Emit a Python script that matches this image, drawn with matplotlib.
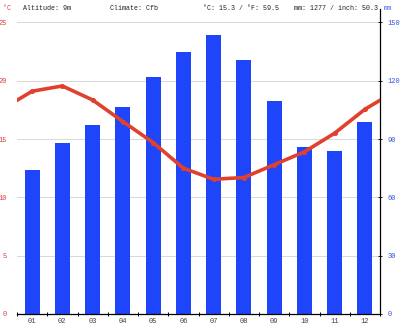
import matplotlib
matplotlib.use("Agg")
import matplotlib.pyplot as plt
import numpy as np

months = ["01", "02", "03", "04", "05", "06", "07", "08", "09", "10", "11", "12"]
precip_mm = [74.2, 87.9, 97.0, 106.7, 122.0, 134.6, 143.7, 130.9, 109.8, 85.9, 84.1, 98.9]
temp_c = [19.1, 19.55, 18.35, 16.5, 14.7, 12.5, 11.55, 11.7, 12.8, 13.9, 15.5, 17.55]
temp_ticks = [0, 5, 10, 15, 20, 25]
mm_ticks = [0, 30, 60, 90, 120, 150]
header = ["Altitude: 9m", "Climate: Cfb", "°C: 15.3 / °F: 59.5", "mm: 1277 / inch: 50.3"]

RED = "#e0412e"
BLUE = "#1f45fa"
LABEL_RED = "#e0404a"
LABEL_BLUE = "#3b55e0"
FONT = "Liberation Mono"
FS = 4.8

fig = plt.figure(figsize=(4.0, 3.25), dpi=100)
ax_t = fig.add_axes([0.0425, 0.034, 0.9075, 0.897])
ax_p = ax_t.twinx()

x = np.arange(1, 13)

# precipitation bars on the right-hand axis
ax_p.bar(x, precip_mm, width=0.5, color=BLUE, zorder=2)
ax_p.set_ylim(0, 150)
ax_p.set_yticks(mm_ticks)
ax_p.set_yticklabels([str(t) for t in mm_ticks], color=LABEL_BLUE,
                     fontsize=FS + 0.3, family=FONT)
ax_p.tick_params(axis="y", length=2.5, width=0.6, direction="inout", pad=4)
for s in ["left", "top", "bottom"]:
    ax_p.spines[s].set_visible(False)
ax_p.spines["right"].set_linewidth(0.9)
ax_p.spines["right"].set_bounds(0, 157)

# temperature curve, wrapped around the year so it runs to both edges
xt = np.concatenate([[0], x, [13]])
yt = np.concatenate([[temp_c[-1]], temp_c, [temp_c[0]]])
ax_t.set_zorder(ax_p.get_zorder() + 1)
ax_t.patch.set_visible(False)
ax_t.plot(xt, yt, color=RED, lw=2.6, solid_capstyle="round",
          marker="o", markersize=2.6, zorder=3)
ax_t.set_ylim(0, 25)
ax_t.set_xlim(0.5, 12.5)
ax_t.set_yticks(temp_ticks)
ax_t.set_yticklabels([str(t) for t in temp_ticks], color=LABEL_RED,
                     fontsize=FS + 0.3, family=FONT)
ax_t.tick_params(axis="y", length=0, pad=7)
for s in ["left", "top", "right"]:
    ax_t.spines[s].set_visible(False)
ax_t.spines["bottom"].set_linewidth(0.9)

# month labels at the centres, tick marks on the month boundaries
ax_t.set_xticks(x)
ax_t.set_xticklabels(months, fontsize=FS + 0.3, family=FONT, color="#444444")
ax_t.tick_params(axis="x", length=0, pad=3)
ax_t.set_xticks(np.arange(0.5, 13.0, 1.0), minor=True)
ax_t.tick_params(axis="x", which="minor", length=3, width=0.7, direction="inout")

# horizontal grid drawn behind the bars
for t in mm_ticks[1:]:
    ax_p.axhline(t, color="#d8d8d8", lw=0.7, zorder=0)

# header line
fig.text(0.008, 0.975, "°C", color=LABEL_RED, fontsize=FS, family=FONT, va="center")
fig.text(0.958, 0.975, "mm", color=LABEL_BLUE, fontsize=FS, family=FONT, va="center")
for xpos, txt in zip([0.057, 0.275, 0.508, 0.735], header):
    fig.text(xpos, 0.975, txt, color="#222222", fontsize=FS, family=FONT, va="center")

fig.savefig("out.png", dpi=100)
